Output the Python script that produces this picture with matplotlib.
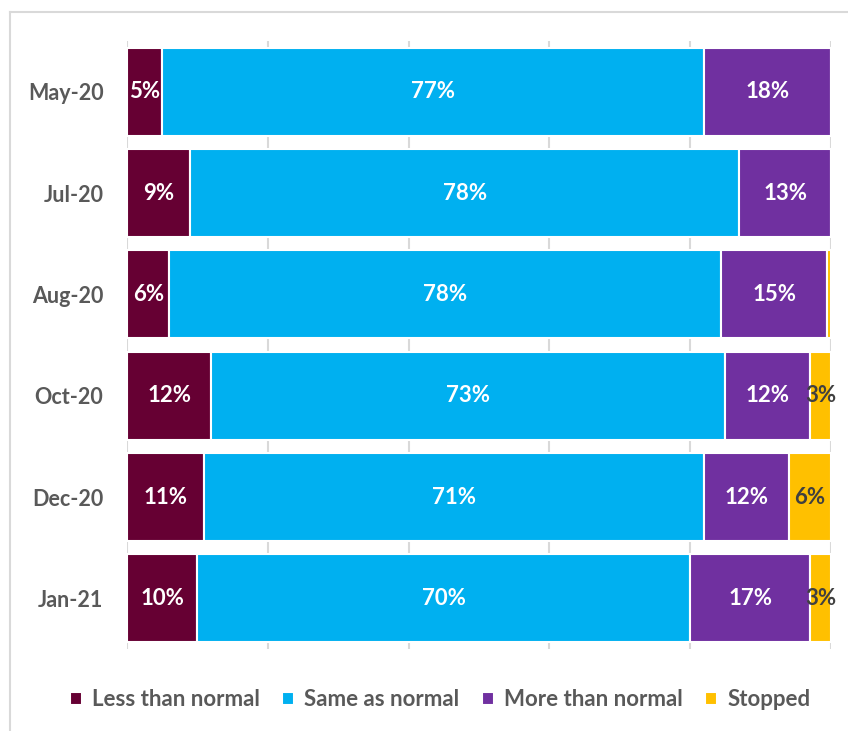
import numpy as np
import matplotlib
matplotlib.use("Agg")
import matplotlib.pyplot as plt
from matplotlib.lines import Line2D

plt.rcParams["font.family"] = ["Lato", "DejaVu Sans"]
plt.rcParams["font.weight"] = "bold"

periods = ["May-20", "Jul-20", "Aug-20", "Oct-20", "Dec-20", "Jan-21"]
less_than = [5, 9, 6, 12, 11, 10]
same_as = [77, 78, 78, 73, 71, 70]
more_than = [18, 13, 15, 12, 12, 17]
stopped = [0, 0, 0.5, 3, 6, 3]

series = ["Less than normal", "Same as normal", "More than normal", "Stopped"]
colors = ["#660033", "#00B0F0", "#7030A0", "#FFC000"]
label_colors = ["white", "white", "white", "#404040"]

vals = np.array([less_than, same_as, more_than, stopped], dtype=float)
shares = vals / vals.sum(axis=0) * 100  # 100% stacked

fig = plt.figure(figsize=(8.48, 7.31), dpi=100)
ax = fig.add_axes([127 / 848, 1 - 649 / 731, (831 - 127) / 848, (649 - 41) / 731])

y = np.arange(len(periods))
left = np.zeros(len(periods))
for i, name in enumerate(series):
    bars = ax.barh(y, shares[i], left=left, height=0.87, color=colors[i],
                   edgecolor="white", linewidth=1.5, label=name, zorder=3)
    for j, b in enumerate(bars):
        if vals[i, j] >= 1:
            ax.text(left[j] + shares[i, j] / 2, y[j], f"{vals[i, j]:.0f}%",
                    ha="center", va="center", color=label_colors[i],
                    fontsize=16, fontweight="bold", zorder=4)
    left += shares[i]

ax.set_xlim(0, 100)
ax.set_ylim(len(periods) - 0.5, -0.5)
ax.set_xticks(np.arange(0, 101, 20))
ax.set_xticklabels([])
ax.set_yticks(y)
ax.set_yticklabels(periods, fontsize=15.5, fontweight="bold", color="#595959")
ax.tick_params(length=0, pad=17)
ax.xaxis.grid(True, color="#D9D9D9", linewidth=1.5, zorder=0)
for s in ax.spines.values():
    s.set_visible(False)

leg = fig.legend(loc="center", bbox_to_anchor=(440 / 848, 1 - 700 / 731), ncol=4,
                 frameon=False, fontsize=16, handlelength=0.55, handleheight=0.55,
                 handletextpad=0.45, columnspacing=1.0)
for t in leg.get_texts():
    t.set_color("#595959")
    t.set_fontweight("bold")

# chart frame
fig.add_artist(Line2D([10 / 848, 1], [1 - 12 / 731] * 2, color="#D9D9D9", linewidth=1.5))
fig.add_artist(Line2D([10 / 848] * 2, [0, 1 - 12 / 731], color="#D9D9D9", linewidth=1.5))

fig.savefig("out.png", dpi=100)
